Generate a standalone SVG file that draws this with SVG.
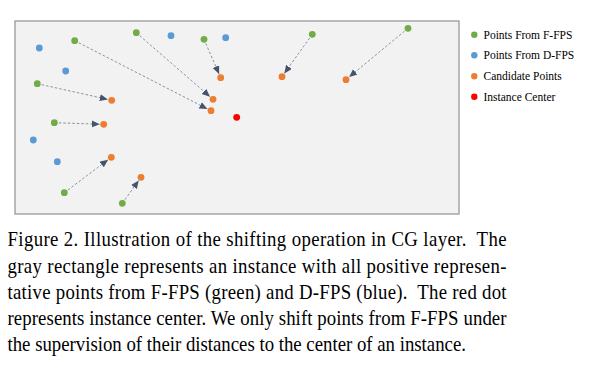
<svg xmlns="http://www.w3.org/2000/svg" width="603" height="374" viewBox="0 0 603 374">
<style>
.g{fill:#70AD47}.b{fill:#5B9BD5}.o{fill:#ED7D31}.r{fill:#FF0000}
.c line{stroke:#8693A6;stroke-width:1;stroke-dasharray:2.5 2;marker-end:url(#ah)}
.leg{font-family:"Liberation Serif","Times New Roman",serif;font-size:11.5px;fill:#000}
.cap{font-family:"Liberation Serif","Times New Roman",serif;font-size:20px;fill:#000}
</style>
<defs>
<marker id="ah" markerUnits="userSpaceOnUse" markerWidth="9" markerHeight="8" refX="8" refY="3.5" orient="auto">
<path d="M0,0 L8,3.5 L0,7 z" fill="#44546A"/>
</marker>
</defs>
<rect id="instance" x="15" y="21" width="444" height="193" fill="#F2F2F2" stroke="#999999" stroke-width="1.3"/>
<g id="connectors" class="c">
<line x1="74.7" y1="40.7" x2="207.4" y2="108.9"/>
<line x1="136.3" y1="32.7" x2="210" y2="96.7"/>
<line x1="204" y1="39.3" x2="219.1" y2="74"/>
<line x1="37.3" y1="83.7" x2="107.8" y2="99.4"/>
<line x1="54.3" y1="122.7" x2="99.7" y2="124.2"/>
<line x1="64.3" y1="192.7" x2="108.1" y2="159.7"/>
<line x1="122.3" y1="203.3" x2="138.7" y2="180.5"/>
<line x1="312.3" y1="34.3" x2="284.3" y2="73.4"/>
<line x1="408" y1="28.3" x2="349.1" y2="77.1"/>
</g>
<g id="dfps-points">
<circle id="b1" class="b" cx="39.3" cy="48" r="3.4"/>
<circle id="b2" class="b" cx="65.7" cy="71" r="3.4"/>
<circle id="b3" class="b" cx="33.3" cy="140" r="3.4"/>
<circle id="b4" class="b" cx="57.3" cy="161.7" r="3.4"/>
<circle id="b5" class="b" cx="171" cy="35.7" r="3.4"/>
<circle id="b6" class="b" cx="225.7" cy="37.7" r="3.4"/>
</g>
<g id="ffps-points">
<circle id="g1" class="g" cx="74.7" cy="40.7" r="3.4"/>
<circle id="g2" class="g" cx="136.3" cy="32.7" r="3.4"/>
<circle id="g3" class="g" cx="204" cy="39.3" r="3.4"/>
<circle id="g4" class="g" cx="37.3" cy="83.7" r="3.4"/>
<circle id="g5" class="g" cx="54.3" cy="122.7" r="3.4"/>
<circle id="g6" class="g" cx="64.3" cy="192.7" r="3.4"/>
<circle id="g7" class="g" cx="122.3" cy="203.3" r="3.4"/>
<circle id="g8" class="g" cx="312.3" cy="34.3" r="3.4"/>
<circle id="g9" class="g" cx="408" cy="28.3" r="3.4"/>
</g>
<g id="candidate-points">
<circle id="o1" class="o" cx="211" cy="110.7" r="3.4"/>
<circle id="o2" class="o" cx="213" cy="99.3" r="3.4"/>
<circle id="o3" class="o" cx="220.7" cy="77.7" r="3.4"/>
<circle id="o4" class="o" cx="111.7" cy="100.3" r="3.4"/>
<circle id="o5" class="o" cx="103.7" cy="124.3" r="3.4"/>
<circle id="o6" class="o" cx="111.3" cy="157.3" r="3.4"/>
<circle id="o7" class="o" cx="141" cy="177.3" r="3.4"/>
<circle id="o8" class="o" cx="282" cy="76.7" r="3.4"/>
<circle id="o9" class="o" cx="346" cy="79.7" r="3.4"/>
</g>
<g id="center">
<circle class="r" cx="236.7" cy="117.3" r="3.4"/>
</g>
<g id="legend">
<circle class="g" cx="474.3" cy="34.8" r="3.2"/>
<text class="leg" x="483.5" y="38.5">Points From F-FPS</text>
<circle class="b" cx="474.3" cy="55.3" r="3.2"/>
<text class="leg" x="483.5" y="59">Points From D-FPS</text>
<circle class="o" cx="474.3" cy="76.3" r="3.2"/>
<text class="leg" x="483.5" y="80">Candidate Points</text>
<circle class="r" cx="474.3" cy="96.8" r="3.2"/>
<text class="leg" x="483.5" y="100.5">Instance Center</text>
</g>
<g id="caption" transform="scale(0.94,1)">
<text class="cap" x="7.98" y="246.5" textLength="530.9" lengthAdjust="spacing" xml:space="preserve">Figure 2. Illustration of the shifting operation in CG layer.  The</text>
<text class="cap" x="7.98" y="272.7" textLength="530.9" lengthAdjust="spacing">gray rectangle represents an instance with all positive represen-</text>
<text class="cap" x="7.98" y="298.9" textLength="530.9" lengthAdjust="spacing" xml:space="preserve">tative points from F-FPS (green) and D-FPS (blue).  The red dot</text>
<text class="cap" x="7.98" y="325.1" textLength="530.9" lengthAdjust="spacing">represents instance center. We only shift points from F-FPS under</text>
<text class="cap" x="7.98" y="351.3">the supervision of their distances to the center of an instance.</text>
</g>
</svg>
